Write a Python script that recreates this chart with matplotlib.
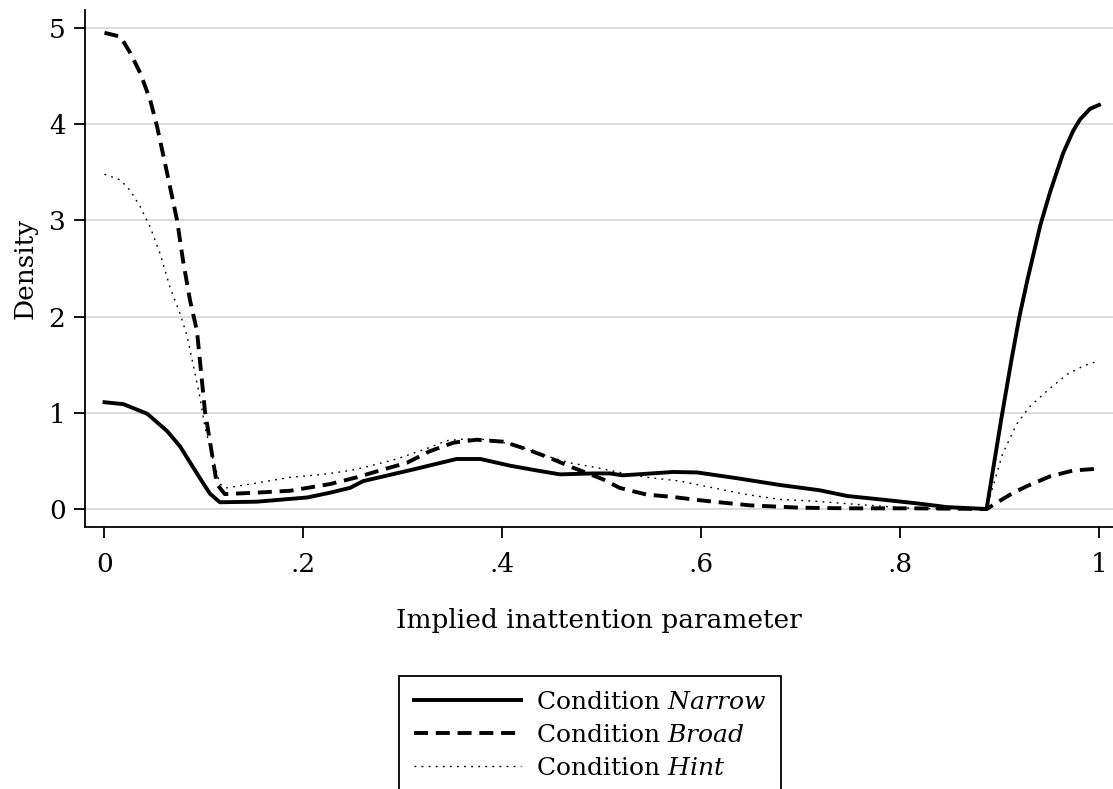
import numpy as np
import matplotlib.pyplot as plt

plt.rcParams['font.family'] = ['DejaVu Serif']
plt.rcParams['mathtext.fontset'] = 'custom'
plt.rcParams['mathtext.rm'] = 'DejaVu Serif'
plt.rcParams['mathtext.it'] = 'DejaVu Serif:italic'

# kernel density curves per condition
narrow_x = [0.0, 0.019, 0.043, 0.063, 0.076, 0.096, 0.106, 0.116, 0.153, 0.204, 0.227,
            0.247, 0.260, 0.310, 0.354, 0.378, 0.408, 0.435, 0.458, 0.491, 0.508, 0.521,
            0.572, 0.596, 0.636, 0.679, 0.719, 0.747, 0.780, 0.820, 0.847, 0.887, 0.902,
            0.912, 0.920, 0.928, 0.941, 0.951, 0.964, 0.974, 0.981, 0.991, 1.0]
narrow_y = [1.11, 1.09, 0.99, 0.81, 0.65, 0.32, 0.16, 0.07, 0.076, 0.12, 0.17,
            0.22, 0.29, 0.41, 0.52, 0.52, 0.45, 0.40, 0.36, 0.37, 0.37, 0.35,
            0.385, 0.38, 0.32, 0.25, 0.195, 0.135, 0.10, 0.055, 0.02, 0.0, 0.95,
            1.55, 2.0, 2.38, 2.95, 3.30, 3.70, 3.93, 4.05, 4.16, 4.20]

broad_x = [0.0, 0.016, 0.026, 0.036, 0.046, 0.053, 0.063, 0.073, 0.079, 0.086, 0.093,
           0.101, 0.113, 0.121, 0.153, 0.187, 0.227, 0.254, 0.280, 0.304, 0.327, 0.351,
           0.374, 0.401, 0.425, 0.448, 0.471, 0.501, 0.518, 0.545, 0.572, 0.596, 0.622,
           0.649, 0.699, 0.747, 0.813, 0.887, 0.900, 0.914, 0.928, 0.951, 0.974, 1.0]
broad_y = [4.95, 4.91, 4.74, 4.53, 4.25, 3.97, 3.49, 3.0, 2.58, 2.17, 1.85,
           1.02, 0.26, 0.155, 0.17, 0.19, 0.26, 0.33, 0.41, 0.48, 0.60, 0.69,
           0.72, 0.70, 0.62, 0.53, 0.43, 0.31, 0.22, 0.15, 0.125, 0.094, 0.066,
           0.038, 0.014, 0.007, 0.007, 0.0, 0.083, 0.17, 0.24, 0.34, 0.40, 0.42]

hint_x = [0.0, 0.016, 0.026, 0.036, 0.046, 0.056, 0.066, 0.076, 0.083, 0.089, 0.096,
          0.101, 0.109, 0.116, 0.123, 0.153, 0.187, 0.220, 0.247, 0.260, 0.294, 0.327,
          0.344, 0.364, 0.388, 0.415, 0.438, 0.468, 0.495, 0.518, 0.545, 0.579, 0.612,
          0.646, 0.679, 0.712, 0.747, 0.780, 0.813, 0.887, 0.893, 0.903, 0.917, 0.930,
          0.948, 0.968, 0.985, 1.0]
hint_y = [3.48, 3.42, 3.31, 3.14, 2.93, 2.65, 2.30, 2.03, 1.80, 1.51, 1.16,
          0.85, 0.53, 0.26, 0.22, 0.27, 0.33, 0.36, 0.40, 0.43, 0.52, 0.64,
          0.71, 0.73, 0.72, 0.66, 0.57, 0.48, 0.43, 0.38, 0.33, 0.29, 0.22,
          0.15, 0.10, 0.083, 0.055, 0.03, 0.007, 0.0, 0.22, 0.57, 0.88, 1.06,
          1.23, 1.40, 1.49, 1.54]

xticks = [0, 0.2, 0.4, 0.6, 0.8, 1.0]
xticklabels = ['0', '.2', '.4', '.6', '.8', '1']
yticks = [0, 1, 2, 3, 4, 5]

fig = plt.figure(figsize=(11.13, 7.89), dpi=100)
ax = fig.add_axes([85 / 1113, 1 - 527 / 789, 1 - 85 / 1113, 517 / 789])

ax.plot(narrow_x, narrow_y, color='black', lw=2.8, solid_joinstyle='round',
        label=r'Condition $\mathit{Narrow}$')
ax.plot(broad_x, broad_y, color='black', lw=2.8, dashes=(3.6, 2.0),
        label=r'Condition $\mathit{Broad}$')
ax.plot(hint_x, hint_y, color='black', lw=1.0, linestyle=(0, (1.3, 3.8)),
        label=r'Condition $\mathit{Hint}$')

ax.set_xlim(-0.0196, 1.0141)
ax.set_ylim(-0.187, 5.187)
ax.set_xticks(xticks)
ax.set_xticklabels(xticklabels)
ax.set_yticks(yticks)
ax.tick_params(axis='both', labelsize=19, length=8, width=1.3, color='black')
ax.tick_params(axis='x', pad=10)
ax.tick_params(axis='y', pad=6)
ax.yaxis.grid(True, color='#d9d9d9', lw=1.3)
ax.set_axisbelow(True)
for s in ['top', 'right']:
    ax.spines[s].set_visible(False)
for s in ['left', 'bottom']:
    ax.spines[s].set_linewidth(1.3)

ax.set_ylabel('Density', fontsize=19, labelpad=8)
ax.set_xlabel('Implied inattention parameter', fontsize=19, labelpad=22)

# legend box runs past the bottom edge of the figure
leg = fig.legend(loc='upper center', bbox_to_anchor=(590 / 1113, 1 - 676 / 789),
                 fontsize=18, handlelength=4.3, handletextpad=0.6, labelspacing=0.4,
                 borderpad=0.6, borderaxespad=0, fancybox=False, edgecolor='black',
                 framealpha=1)
leg.get_frame().set_linewidth(1.3)

fig.savefig('out.png', dpi=100)
